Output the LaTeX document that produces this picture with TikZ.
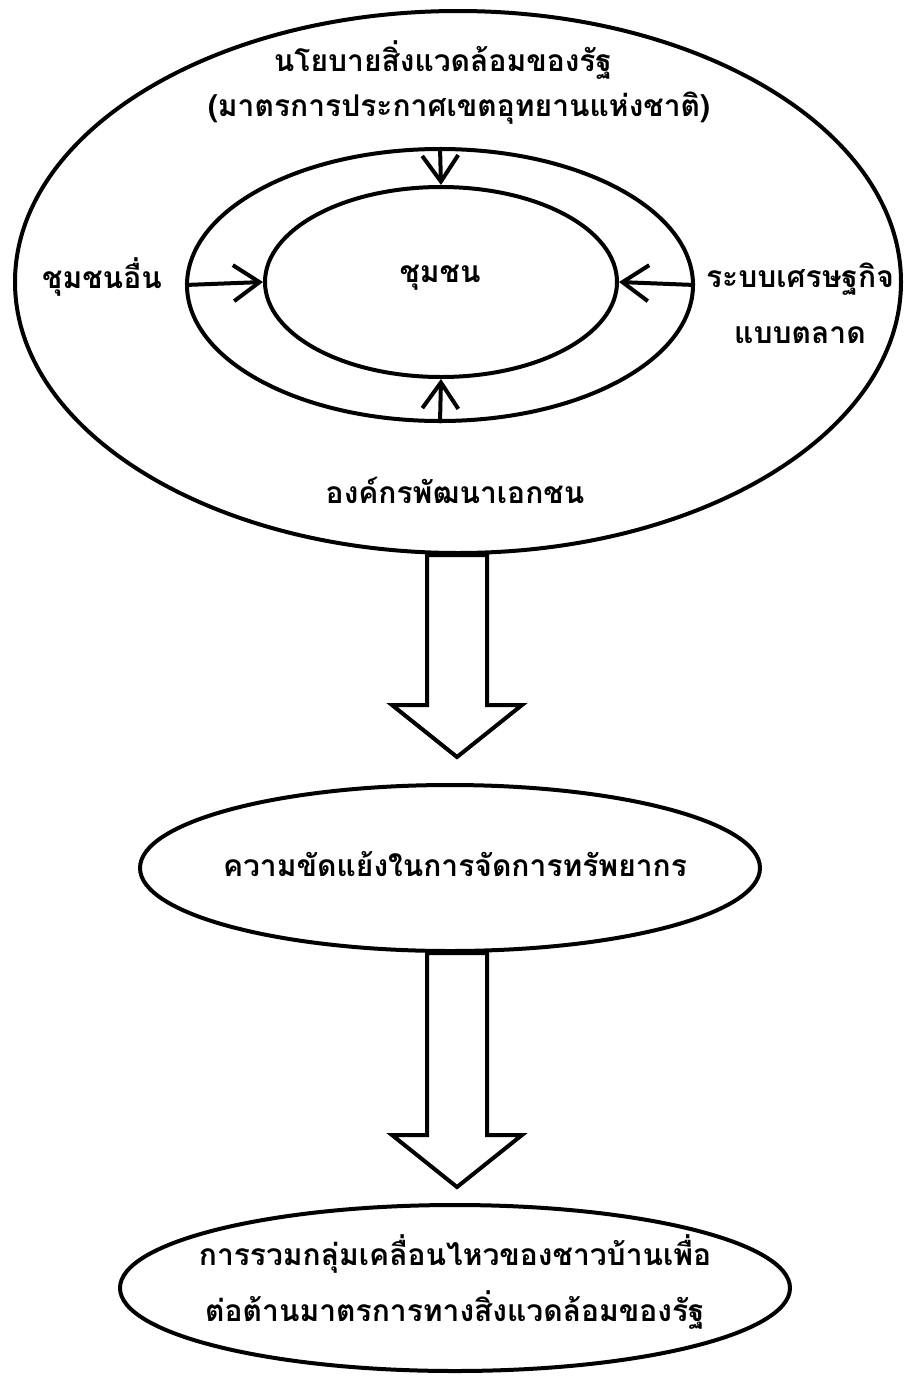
\documentclass[tikz,border=0pt]{standalone}
\usepackage{fontspec}
\newfontfamily\thaifont[Script=Thai]{Loma}
\usetikzlibrary{shapes.geometric,arrows.meta,calc}

\tikzset{
  thaitext/.style={font=\thaifont\bfseries\fontsize{30}{56}\selectfont},
  ring/.style={draw, ellipse, line width=4pt, inner sep=0pt},
  lbl/.style={thaitext, inner sep=0pt, align=center},
  push/.style={line width=4pt, -{Straight Barb[length=26pt,width=36pt]}},
  blockarrow/.style={draw, line width=4pt, line join=miter}
}
% hollow block arrow from a node's edge down to a tip
\newcommand\blockarrow[2]{%
  \draw[blockarrow] let \p1=(#1), \p2=(#2) in
    (\x2-30pt,\y1) -- (\x2-30pt,\y2+52pt) -- (\x2-65pt,\y2+52pt) -- (\p2)
    -- (\x2+65pt,\y2+52pt) -- (\x2+30pt,\y2+52pt) -- (\x2+30pt,\y1) -- cycle;}

\begin{document}
\begin{tikzpicture}[x=1pt,y=-1pt]
\useasboundingbox (0,0) rectangle (904,1379);

% the three rings
\node[ring, minimum width=886pt, minimum height=542pt] (policy) at (458,282) {};
\node[ring, minimum width=506pt, minimum height=272pt] (ring) at (440,285) {};
\node[ring, minimum width=352pt, minimum height=190pt] (community) at (441,282) {};
\node[lbl] (commlbl) at (440,278) {ชุมชน};

\node[lbl] (title1) at (443,60) {นโยบายสิ่งแวดล้อมของรัฐ};
\node[lbl] (title2) at (459,108) {(มาตรการประกาศเขตอุทยานแห่งชาติ)};
\node[lbl] (others) at (102,277) {ชุมชนอื่น};
\node[lbl] (market) at (800,303) {ระบบเศรษฐกิจ\\แบบตลาด};
\node[lbl] (ngo) at (455,490) {องค์กรพัฒนาเอกชน};

\draw[push] (ring.north) -- (community.north);
\draw[push] (ring.south) -- (community.south);
\draw[push] (ring.west) -- (community.west);
\draw[push] (ring.east) -- (community.east);

% outcome chain
\coordinate (tip1) at (457,757);
\blockarrow{policy.south}{tip1}
\node[ring, minimum width=620pt, minimum height=166pt] (conflict) at (450,868) {};
\node[lbl] (conflictlbl) at (455,864) {ความขัดแย้งในการจัดการทรัพยากร};
\coordinate (tip2) at (457,1187);
\blockarrow{conflict.south}{tip2}
\node[ring, minimum width=670pt, minimum height=166pt] (movement) at (455,1288) {};
\node[lbl] (movementlbl) at (455,1282)
  {การรวมกลุ่มเคลื่อนไหวของชาวบ้านเพื่อ\\ต่อต้านมาตรการทางสิ่งแวดล้อมของรัฐ};
\end{tikzpicture}
\end{document}
